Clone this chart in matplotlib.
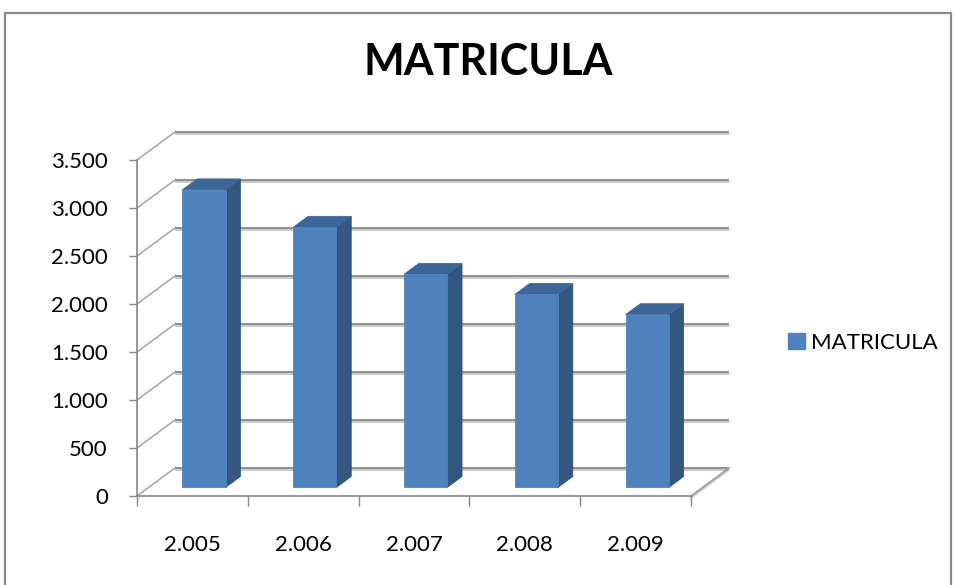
import matplotlib
matplotlib.use("Agg")
import matplotlib.pyplot as plt
import matplotlib.patheffects as pe
from matplotlib.patches import Polygon, Rectangle, Patch

YEARS = ["2.005", "2.006", "2.007", "2.008", "2.009"]
MATRICULA = [3100, 2710, 2220, 2010, 1800]
Y_TICKS = [0, 500, 1000, 1500, 2000, 2500, 3000, 3500]
Y_LABELS = ["0", "500", "1.000", "1.500", "2.000", "2.500", "3.000", "3.500"]

FRONT = "#4F81BD"
SIDE = "#34577F"
TOP = "#3C6698"
GRID = "#878787"
GRID_LIGHT = "#C4C4C4"

# fake 3d look: offset of the back wall, in data units (x in categories, y in values)
DX = 0.343
DY = 292.0


def proj(x, y, z):
    """Oblique projection, z goes from 0 (front) to 1 (back wall)."""
    return (x + z * DX, y + z * DY)


def main():
    plt.rcParams['font.family'] = ['Lato', 'DejaVu Sans']

    fig = plt.figure(figsize=(9.56, 5.85), dpi=100)
    ax = fig.add_axes([137 / 956, 89 / 585, 554 / 956, 336 / 585])
    n = len(YEARS)
    ax.set_xlim(0, n)
    ax.set_ylim(0, Y_TICKS[-1])

    # walls: diagonal on the left side + horizontal lines on the back
    shadow = [pe.SimpleLineShadow(offset=(0, -1.3), shadow_color=GRID_LIGHT, alpha=1, rho=1), pe.Normal()]
    for v in Y_TICKS:
        x0, y0 = proj(0, v, 0)
        x1, y1 = proj(0, v, 1)
        x2, y2 = proj(n, v, 1)
        ax.plot([x0, x1], [y0, y1], color="#9C9C9C", lw=1.0, clip_on=False, zorder=1)
        ax.plot([x1, x2], [y1, y2], color=GRID, lw=1.3, clip_on=False, zorder=1,
                path_effects=shadow, solid_capstyle="butt")

    # floor right edge
    fx0, fy0 = proj(n, 0, 0)
    fx1, fy1 = proj(n, 0, 1)
    ax.plot([fx0, fx1], [fy0, fy1], color="#9C9C9C", lw=1.2, clip_on=False, zorder=1,
            path_effects=shadow)

    # bars
    w = 0.195
    z0, z1 = 0.305, 0.695
    for i, v in enumerate(MATRICULA):
        c = i + 0.5
        front = [proj(c - w, 0, z0), proj(c + w, 0, z0), proj(c + w, v, z0), proj(c - w, v, z0)]
        side = [proj(c + w, 0, z0), proj(c + w, 0, z1), proj(c + w, v, z1), proj(c + w, v, z0)]
        top = [proj(c - w, v, z0), proj(c + w, v, z0), proj(c + w, v, z1), proj(c - w, v, z1)]
        for pts, col in [(side, SIDE), (top, TOP), (front, FRONT)]:
            ax.add_patch(Polygon(pts, closed=True, facecolor=col, edgecolor=col,
                                 lw=0.6, clip_on=False, zorder=3))

    # axes
    for s in ["top", "right"]:
        ax.spines[s].set_visible(False)
    for s in ["left", "bottom"]:
        ax.spines[s].set_color(GRID)
        ax.spines[s].set_linewidth(1.2)
    ax.set_yticks(Y_TICKS)
    ax.set_yticklabels(Y_LABELS)
    ax.tick_params(axis="y", length=6, width=1, color=GRID, pad=15, labelsize=16)
    ax.set_xticks(range(n + 1))
    ax.set_xticklabels([])
    ax.set_xticks([i + 0.5 for i in range(n)], minor=True)
    ax.set_xticklabels(YEARS, minor=True)
    ax.tick_params(axis="x", which="major", length=7, width=1, color=GRID)
    ax.tick_params(axis="x", which="minor", length=0, pad=28, labelsize=16)
    ax.set_facecolor("none")

    fig.text(488 / 956, 1 - 62 / 585, "MATRICULA", ha="center", va="center",
             fontsize=31, fontweight="bold")

    fig.legend(handles=[Patch(facecolor=FRONT, edgecolor=FRONT)], labels=["MATRICULA"],
               loc="center left", bbox_to_anchor=(788 / 956, 1 - 343 / 585),
               frameon=False, fontsize=16, handlelength=0.75, handleheight=0.75,
               handletextpad=0.3, borderpad=0, borderaxespad=0)

    # chart frame
    fig.add_artist(Rectangle((4.5 / 956, -0.05), (951 - 4.5) / 956, 1.05 - 13 / 585,
                             transform=fig.transFigure, fill=False,
                             edgecolor="#8A8A8A", lw=1.6))

    fig.savefig("out.png", dpi=100)


if __name__ == "__main__":
    main()
